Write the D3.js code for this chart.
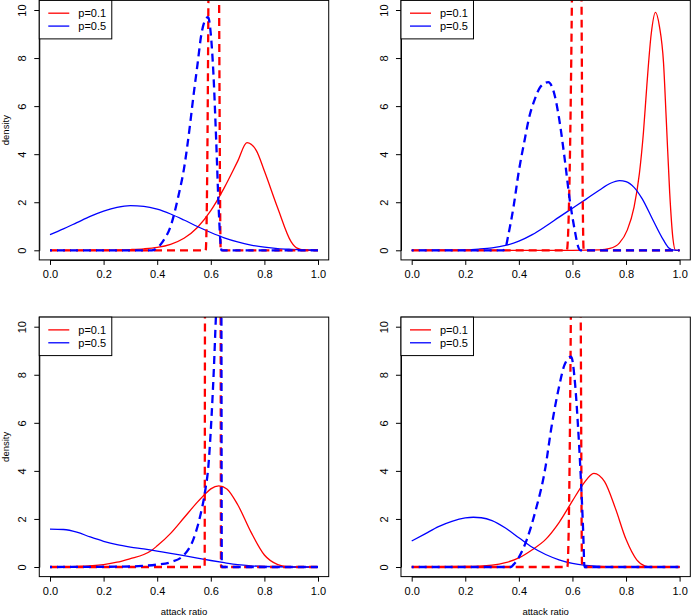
<!doctype html>
<html lang="en">
<head>
    <meta charset="utf-8"/>
    <title>attack ratio densities</title>
    <script src="https://cdn.jsdelivr.net/npm/d3@7"></script>
    <style>
        body { margin: 0; padding: 0; background: #fff; }
        svg { display: block; font-family: "Liberation Sans", Arial, Helvetica, sans-serif; }
    </style>
</head>
<body>
<script>
    // ticks and legend
    const xTicks = [0, 0.2, 0.4, 0.6, 0.8, 1.0];
    const yTicks = [0, 2, 4, 6, 8, 10];
    const legendLabels = ["p=0.1", "p=0.5"];
    const seriesColors = ["#ff0000", "#0000ff"];

    // top left panel  [attack ratio, density]
    const tlRedSolid = [[0,0],[0.1,0],[0.2,0.005],[0.3,0.03],[0.35,0.06],[0.4,0.12],[0.45,0.25],[0.5,0.5],[0.55,0.95],[0.6,1.65],[0.65,2.6],[0.7,3.7],[0.735,4.48],[0.77,4.15],[0.8,3.3],[0.85,1.75],[0.9,0.35],[0.92,0.1],[0.95,0.01],[1,0]];
    const tlBlueSolid = [[0,0.65],[0.05,0.89],[0.1,1.15],[0.15,1.41],[0.2,1.63],[0.25,1.79],[0.3,1.86],[0.35,1.83],[0.4,1.71],[0.45,1.51],[0.5,1.26],[0.55,0.99],[0.6,0.74],[0.65,0.52],[0.7,0.35],[0.75,0.22],[0.8,0.13],[0.85,0.07],[0.9,0.04],[0.95,0.02],[1,0.01]];
    const tlRedDash = [[0,0],[0.581,0],[0.591,10.4],[0.593,16],[0.629,16],[0.631,10.4],[0.637,0],[1,0]];
    const tlBlueDash = [[0,0],[0.38,0],[0.4,0.1],[0.42,0.35],[0.45,1.0],[0.48,2.3],[0.5,3.4],[0.52,5.0],[0.535,6.4],[0.55,7.7],[0.565,9.0],[0.58,9.6],[0.59,9.7],[0.6,9.0],[0.61,7.3],[0.62,4.6],[0.63,1.6],[0.637,0.2],[0.64,0],[1,0]];

    // top right panel
    const trRedSolid = [[0,0],[0.6,0],[0.7,0.02],[0.74,0.08],[0.775,0.3],[0.805,0.85],[0.83,1.8],[0.85,3.2],[0.865,4.9],[0.878,6.9],[0.894,9.0],[0.91,9.9],[0.925,9.3],[0.94,7.8],[0.95,5.5],[0.963,2.4],[0.975,0.5],[0.985,0],[1,0]];
    const trBlueSolid = [[0,0],[0.1,0.003],[0.2,0.02],[0.25,0.05],[0.3,0.1],[0.35,0.2],[0.4,0.38],[0.45,0.65],[0.5,1.0],[0.55,1.38],[0.6,1.75],[0.65,2.12],[0.7,2.5],[0.74,2.78],[0.776,2.9],[0.8,2.86],[0.83,2.62],[0.86,2.15],[0.9,1.27],[0.94,0.42],[0.96,0.1],[0.98,0.005],[1,0]];
    const trRedDash = [[0,0],[0.579,0],[0.598,10.4],[0.6,16],[0.632,16],[0.634,10.4],[0.642,0],[1,0]];
    const trBlueDash = [[0,0],[0.34,0],[0.35,0.1],[0.36,0.6],[0.38,1.8],[0.4,3.3],[0.42,4.5],[0.44,5.6],[0.46,6.3],[0.48,6.8],[0.51,7.0],[0.53,6.6],[0.55,5.5],[0.57,3.9],[0.59,2.1],[0.61,0.75],[0.62,0.2],[0.63,0],[1,0]];

    // bottom left panel
    const blRedSolid = [[0,0],[0.1,0.02],[0.2,0.1],[0.25,0.2],[0.3,0.35],[0.35,0.52],[0.38,0.7],[0.4,0.88],[0.45,1.4],[0.5,2.05],[0.55,2.7],[0.58,3.05],[0.6,3.25],[0.63,3.38],[0.66,3.25],[0.7,2.6],[0.75,1.45],[0.8,0.5],[0.85,0.1],[0.88,0.02],[0.9,0],[1,0]];
    const blBlueSolid = [[0,1.58],[0.05,1.56],[0.1,1.45],[0.15,1.25],[0.2,1.07],[0.25,0.93],[0.3,0.83],[0.35,0.75],[0.4,0.66],[0.45,0.57],[0.5,0.47],[0.55,0.37],[0.6,0.27],[0.65,0.18],[0.7,0.1],[0.75,0.05],[0.8,0.02],[0.9,0],[1,0]];
    const blRedDash = [[0,0],[0.577,0],[0.579,16],[0.636,16],[0.638,0],[1,0]];
    const blBlueDash = [[0,0],[0.3,0.02],[0.35,0.05],[0.4,0.1],[0.45,0.2],[0.5,0.5],[0.535,1.15],[0.56,2.1],[0.578,3.1],[0.591,4.2],[0.603,6.3],[0.612,8.4],[0.619,10.4],[0.63,13],[0.639,14],[0.641,0],[1,0]];

    // bottom right panel
    const brRedSolid = [[0,0],[0.2,0.02],[0.3,0.08],[0.35,0.18],[0.4,0.38],[0.45,0.72],[0.5,1.15],[0.55,1.85],[0.6,2.75],[0.64,3.45],[0.68,3.9],[0.72,3.55],[0.76,2.45],[0.8,1.15],[0.84,0.3],[0.87,0.05],[0.9,0],[1,0]];
    const brBlueSolid = [[0,1.08],[0.05,1.38],[0.1,1.68],[0.15,1.9],[0.2,2.04],[0.23,2.07],[0.26,2.05],[0.3,1.93],[0.35,1.62],[0.4,1.22],[0.45,0.82],[0.5,0.52],[0.55,0.3],[0.6,0.15],[0.65,0.07],[0.7,0.03],[0.8,0.01],[1,0]];
    const brRedDash = [[0,0],[0.581,0],[0.594,10.4],[0.596,16],[0.629,16],[0.631,10.4],[0.636,0],[1,0]];
    const brBlueDash = [[0,0],[0.37,0],[0.38,0.1],[0.4,0.4],[0.43,1.15],[0.46,2.25],[0.5,4.2],[0.52,5.7],[0.55,7.5],[0.57,8.4],[0.595,8.75],[0.61,7.6],[0.62,6.0],[0.63,4.0],[0.64,1.5],[0.645,0],[1,0]];

    const width = 691, height = 616;

    // pixel position of x=0..1 and y=0..10 for each panel
    const panels = [
        {id: "tl", px: [50, 318], py: [250.3, 10], ylab: true, xlab: false,
            lines: [tlRedSolid, tlBlueSolid, tlRedDash, tlBlueDash]},
        {id: "tr", px: [411.7, 679.6], py: [250.3, 10], ylab: false, xlab: false,
            lines: [trRedSolid, trBlueSolid, trRedDash, trBlueDash]},
        {id: "bl", px: [50, 318], py: [567, 326.7], ylab: true, xlab: true,
            lines: [blRedSolid, blBlueSolid, blRedDash, blBlueDash]},
        {id: "br", px: [411.7, 679.6], py: [567, 326.7], ylab: false, xlab: true,
            lines: [brRedSolid, brBlueSolid, brRedDash, brBlueDash]}
    ];

    const svg = d3.select("body").append("svg")
        .attr("width", width)
        .attr("height", height);

    panels.forEach(function (p) {
        const x = d3.scaleLinear().domain([0, 1]).range(p.px);
        const y = d3.scaleLinear().domain([0, 10]).range(p.py);

        // R style plot region: 4% extra on each side
        const left = x(-0.04), right = x(1.04), top = y(10.4), bottom = y(-0.4);

        svg.append("clipPath").attr("id", "clip-" + p.id)
            .append("rect")
            .attr("x", left).attr("y", top)
            .attr("width", right - left).attr("height", bottom - top);

        const line = d3.line()
            .x(d => x(d[0]))
            .y(d => y(d[1]))
            .curve(d3.curveMonotoneX);

        const g = svg.append("g").attr("clip-path", "url(#clip-" + p.id + ")");

        // solid red, solid blue, dashed red, dashed blue
        p.lines.forEach(function (data, i) {
            const dashed = i >= 2;
            g.append("path")
                .datum(data)
                .attr("d", line)
                .attr("fill", "none")
                .attr("stroke", seriesColors[i % 2])
                .attr("stroke-width", dashed ? 2.3 : 1.3)
                .attr("stroke-dasharray", dashed ? "8,5" : null)
                .attr("stroke-dashoffset", dashed && i === 3 ? 6 : 0);
        });

        // box
        svg.append("rect")
            .attr("x", left).attr("y", top)
            .attr("width", right - left).attr("height", bottom - top)
            .attr("fill", "none")
            .attr("stroke", "#000")
            .attr("stroke-width", 1);

        // x axis
        const xAxis = svg.append("g")
            .attr("transform", `translate(0,${bottom})`)
            .call(d3.axisBottom(x).tickValues(xTicks).tickFormat(d3.format(".1f"))
                .tickSize(5).tickSizeOuter(0).tickPadding(5.5));
        xAxis.selectAll("text").style("font-size", "11px").attr("fill", "#000");

        // y axis, labels parallel to the axis like R
        const yAxis = svg.append("g")
            .attr("transform", `translate(${left},0)`)
            .call(d3.axisLeft(y).tickValues(yTicks).tickFormat(d3.format("d"))
                .tickSize(5).tickSizeOuter(0));
        yAxis.selectAll("text")
            .style("font-size", "11px")
            .attr("fill", "#000")
            .attr("transform", "rotate(-90)")
            .attr("x", 0)
            .attr("y", -12.9)
            .attr("dy", 0)
            .attr("text-anchor", "middle");
        svg.selectAll(".domain").attr("stroke", "#000");

        if (p.ylab) {
            svg.append("text")
                .attr("transform", `translate(8.5,${(top + bottom) / 2}) rotate(-90)`)
                .attr("text-anchor", "middle")
                .style("font-size", "9.5px")
                .text("density");
        }
        if (p.xlab) {
            svg.append("text")
                .attr("x", x(0.5))
                .attr("y", 614.5)
                .attr("text-anchor", "middle")
                .style("font-size", "9.5px")
                .text("attack ratio");
        }

        // legend in the top left corner
        const lg = svg.append("g").attr("transform", `translate(${left},${top})`);
        lg.append("rect")
            .attr("width", 72.5).attr("height", 38.5)
            .attr("fill", "#fff")
            .attr("stroke", "#000")
            .attr("stroke-width", 1);
        legendLabels.forEach(function (lab, i) {
            const ry = 12.8 + i * 12.9;
            lg.append("line")
                .attr("x1", 9).attr("x2", 30)
                .attr("y1", ry).attr("y2", ry)
                .attr("stroke", seriesColors[i])
                .attr("stroke-width", 1.3);
            lg.append("text")
                .attr("x", 39).attr("y", ry)
                .attr("dy", "0.36em")
                .style("font-size", "11px")
                .text(lab);
        });
    });
</script>
</body>
</html>
